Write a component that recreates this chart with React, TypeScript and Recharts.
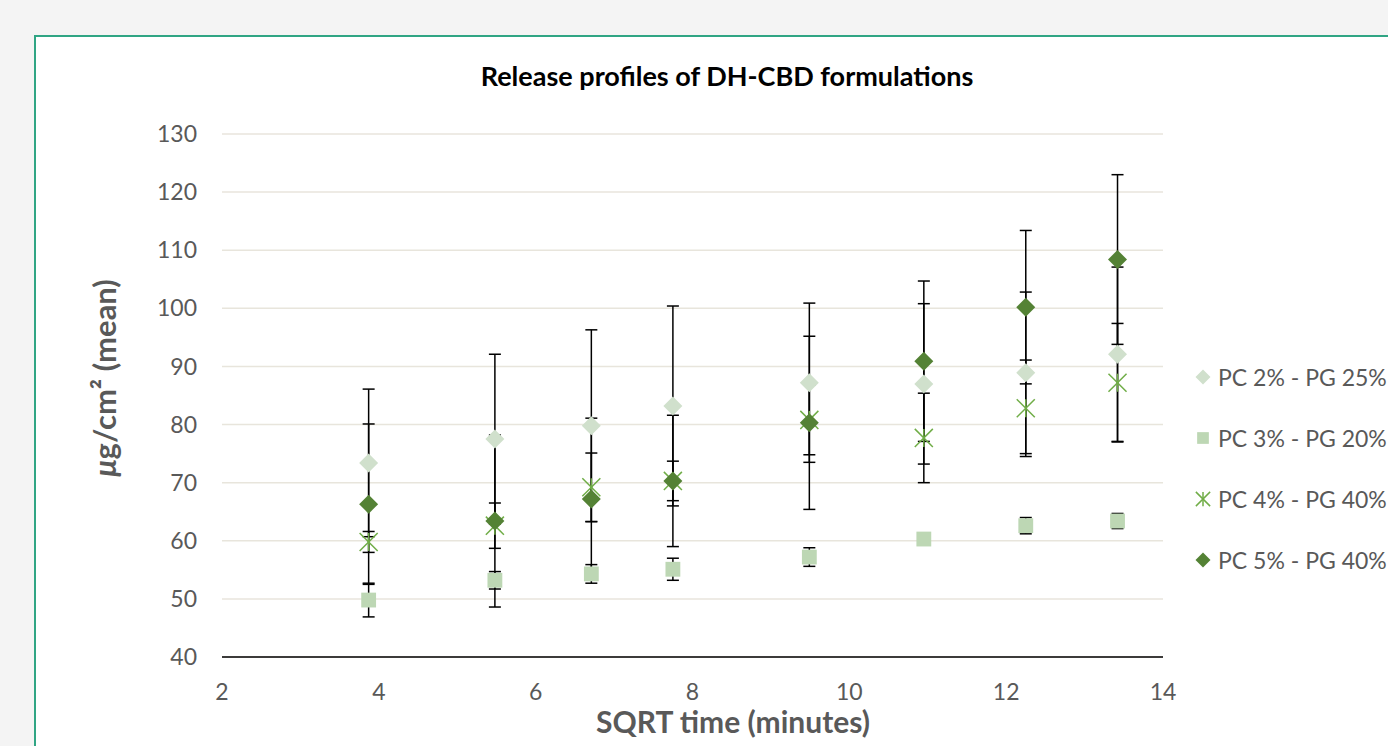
import React from "react";
import { ScatterChart, Scatter, XAxis, YAxis, CartesianGrid, ErrorBar, Legend } from "recharts";

// sqrt of sampling time (15, 30, 45, 60, 90, 120, 150, 180 min)
const timePoints = [3.87, 5.48, 6.71, 7.75, 9.49, 10.95, 12.25, 13.42];

// means and SD per formulation (µg/cm²)
const pc2Mean = [73.4, 77.5, 79.8, 83.2, 87.2, 87.0, 88.9, 92.1];
const pc2Err = [12.7, 14.6, 16.5, 17.2, 13.7, 13.8, 13.9, 15.0];
const pc3Mean = [49.8, 53.2, 54.3, 55.1, 57.2, 60.3, 62.6, 63.4];
const pc3Err = [2.9, 1.5, 1.6, 1.9, 1.6, 0.3, 1.4, 1.3];
const pc4Mean = [59.8, 62.6, 69.2, 70.3, 80.8, 77.7, 82.8, 87.2];
const pc4Err = [1.8, 3.9, 5.9, 3.4, 6.0, 7.7, 8.3, 10.2];
const pc5Mean = [66.3, 63.4, 67.2, 70.3, 80.3, 90.9, 100.2, 108.4];
const pc5Err = [13.8, 14.8, 13.9, 11.3, 14.9, 13.8, 13.2, 14.6];

const seriesNames = ["PC 2% - PG 25%", "PC 3% - PG 20%", "PC 4% - PG 40%", "PC 5% - PG 40%"];
const xTicks = [2, 4, 6, 8, 10, 12, 14];
const yTicks = [40, 50, 60, 70, 80, 90, 100, 110, 120, 130];

const build = (means: number[], errs: number[]) =>
  timePoints.map((x, i) => ({ x, y: means[i], err: errs[i] }));

const series = [
  build(pc2Mean, pc2Err),
  build(pc3Mean, pc3Err),
  build(pc4Mean, pc4Err),
  build(pc5Mean, pc5Err),
];

const TEXT = "#595959";
const FONT = "Lato, 'Open Sans', sans-serif";

type Kind = "diamond" | "square" | "star";
const markerStyle: { kind: Kind; color: string }[] = [
  { kind: "diamond", color: "#d0e0cc" },
  { kind: "square", color: "#bdd7b4" },
  { kind: "star", color: "#70ad47" },
  { kind: "diamond", color: "#548235" },
];

const Marker = ({ kind, color, cx, cy, r }: { kind: Kind; color: string; cx: number; cy: number; r: number }) => {
  if (kind === "diamond") {
    return <path d={`M${cx},${cy - r}L${cx + r},${cy}L${cx},${cy + r}L${cx - r},${cy}Z`} fill={color} />;
  }
  if (kind === "square") {
    const h = r * 0.78;
    return <rect x={cx - h} y={cy - h} width={h * 2} height={h * 2} fill={color} />;
  }
  const h = r * 0.95;
  return (
    <g stroke={color} strokeWidth={1.5}>
      <line x1={cx - h} y1={cy - h} x2={cx + h} y2={cy + h} />
      <line x1={cx - h} y1={cy + h} x2={cx + h} y2={cy - h} />
      <line x1={cx} y1={cy - h} x2={cx} y2={cy + h} />
    </g>
  );
};

const renderLegend = (props: any) => {
  const items = (props.payload || []).filter((p: any) => p.type !== "none");
  return (
    <div style={{ fontFamily: FONT, fontSize: 23, color: TEXT }}>
      {items.map((p: any) => {
        const idx = seriesNames.indexOf(p.value);
        const st = markerStyle[idx];
        return (
          <div key={p.value} style={{ display: "flex", alignItems: "center", height: 61, whiteSpace: "nowrap" }}>
            <svg width={20} height={20} style={{ marginRight: 5 }}>
              <Marker kind={st.kind} color={st.color} cx={10} cy={10} r={7.5} />
            </svg>
            <span>{p.value}</span>
          </div>
        );
      })}
    </div>
  );
};

export default function App() {
  return (
    <div style={{ position: "absolute", left: 0, top: 0, width: 1388, height: 746, background: "#f4f4f4", overflow: "hidden" }}>
      <div
        style={{
          position: "absolute",
          left: 34,
          top: 35,
          width: 1420,
          height: 760,
          background: "#fff",
          border: "2px solid #30a584",
        }}
      />
      <div
        style={{
          position: "absolute",
          left: 377,
          width: 700,
          top: 60,
          lineHeight: "32px",
          textAlign: "center",
          fontFamily: FONT,
          fontWeight: "bold",
          fontSize: 27,
          color: "#000",
        }}
      >
        Release profiles of DH-CBD formulations
      </div>
      <div style={{ position: "absolute", left: 0, top: 0 }}>
        <ScatterChart
          width={1388}
          height={746}
          margin={{ top: 134, right: 225, bottom: 29, left: 142 }}
          style={{ fontFamily: FONT }}
        >
          <CartesianGrid horizontal vertical={false} stroke="#e8e5dc" strokeWidth={1.5} />
          <XAxis
            type="number"
            dataKey="x"
            domain={[2, 14]}
            ticks={xTicks}
            interval={0}
            height={60}
            axisLine={{ stroke: "#000", strokeWidth: 1.5 }}
            tickLine={false}
            tickSize={0}
            tickMargin={27}
            tick={{ fill: TEXT, fontSize: 23 }}
            label={{
              content: (p: any) => (
                <text
                  x={733}
                  y={p.viewBox.y + 64}
                  textAnchor="middle"
                  dominantBaseline="central"
                  fill={TEXT}
                  fontSize={30}
                  fontWeight="bold"
                >
                  SQRT time (minutes)
                </text>
              ),
            }}
          />
          <YAxis
            type="number"
            dataKey="y"
            domain={[40, 130]}
            ticks={yTicks}
            interval={0}
            width={80}
            axisLine={false}
            tickLine={false}
            tickSize={0}
            tickMargin={25}
            tick={{ fill: TEXT, fontSize: 23 }}
            label={{
              content: () => (
                <text
                  x={104}
                  y={378}
                  transform="rotate(-90, 104, 378)"
                  textAnchor="middle"
                  dominantBaseline="central"
                  fill={TEXT}
                  fontSize={31}
                  fontWeight="bold"
                >
                  <tspan fontStyle="italic">μ</tspan>g/cm² (mean)
                </text>
              ),
            }}
          />
          <Legend
            layout="vertical"
            align="center"
            verticalAlign="middle"
            content={renderLegend}
            wrapperStyle={{ left: 1193, top: 346, width: 260 }}
          />
          {series.map((data, i) => (
            <Scatter
              key={`err-${i}`}
              name={`err-${i}`}
              data={data}
              legendType="none"
              isAnimationActive={false}
              shape={() => <g />}
            >
              <ErrorBar dataKey="err" direction="y" width={6} stroke="#000" strokeWidth={1.5} isAnimationActive={false} />
            </Scatter>
          ))}
          {series.map((data, i) => (
            <Scatter
              key={seriesNames[i]}
              name={seriesNames[i]}
              data={data}
              fill={markerStyle[i].color}
              isAnimationActive={false}
              shape={(p: any) => (
                <Marker kind={markerStyle[i].kind} color={markerStyle[i].color} cx={p.cx} cy={p.cy} r={9.5} />
              )}
            />
          ))}
        </ScatterChart>
      </div>
    </div>
  );
}
